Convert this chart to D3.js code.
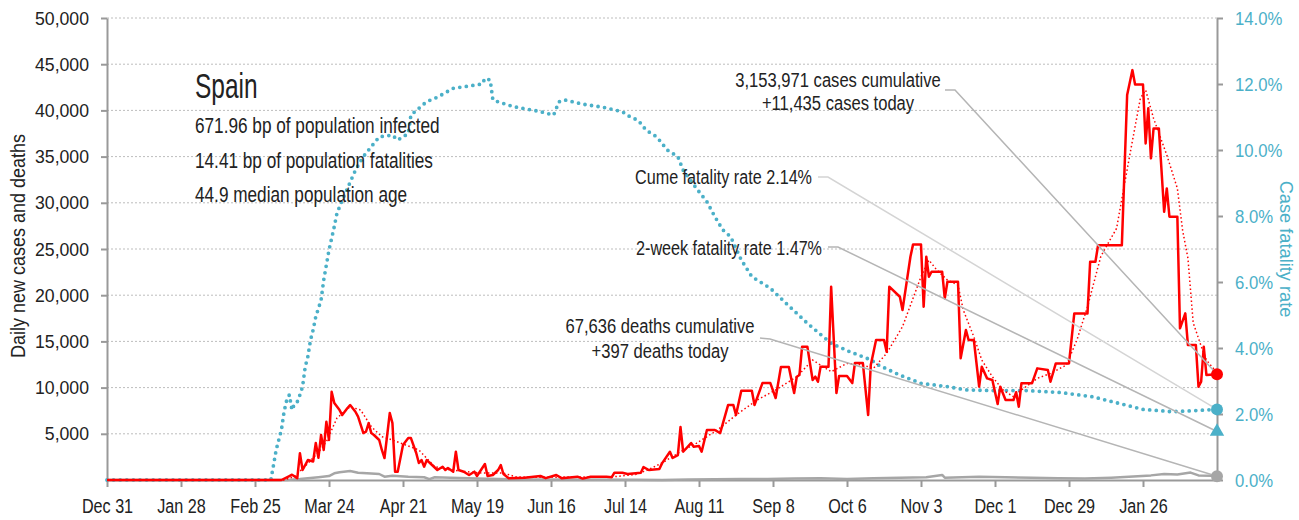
<!DOCTYPE html>
<html>
<head>
<meta charset="utf-8">
<script src="https://cdn.jsdelivr.net/npm/d3@7"></script>
<style>
	body { margin: 0; background: #fff; }
	svg text { font-family: "Liberation Sans", Arial, sans-serif; }
</style>
</head>
<body>
<div id="chart"></div>
<script>
// day 0 = Dec 31, 2019
const startDate = "2019-12-31";
const lastDay = 420;

const tickDates = ["2019-12-31", "2020-01-28", "2020-02-25", "2020-03-24", "2020-04-21", "2020-05-19",
	"2020-06-16", "2020-07-14", "2020-08-11", "2020-09-08", "2020-10-06", "2020-11-03",
	"2020-12-01", "2020-12-29", "2021-01-26"];
const leftTicks = [5000, 10000, 15000, 20000, 25000, 30000, 35000, 40000, 45000, 50000];
const rightTicks = [0, 2, 4, 6, 8, 10, 12, 14];

// [day, daily new cases]
const casesDaily = [[0,0],[66,0],[69,430],[70,570],[72,200],[73,2900],[74,1080],[76,2160],[78,2000],[79,4000],
	[80,2400],[81,4870],[82,3250],[83,6300],[84,4330],[85,9550],[86,8330],[88,7570],[89,7030],[91,7790],
	[92,8110],[94,7390],[95,6850],[97,5080],[98,5230],[99,6160],[100,5080],[101,4870],[103,4330],[104,3250],
	[105,2380],[107,7250],[108,6160],[109,900],[110,900],[112,3790],[114,4540],[115,4540],[117,2920],[118,1840],
	[119,2160],[120,1440],[121,2160],[123,1620],[125,1080],[127,1440],[128,1080],[129,1300],[131,900],[132,3060],
	[133,1080],[135,900],[137,540],[139,900],[140,430],[143,1730],[144,430],[146,540],[148,1080],[149,1620],
	[150,650],[152,200],[158,250],[164,430],[166,200],[170,540],[172,200],[178,360],[180,150],[183,360],
	[189,360],[191,300],[192,790],[195,790],[197,650],[202,790],[203,1400],[205,1080],[209,1190],[210,1800],
	[213,3060],[214,2380],[216,2700],[217,5730],[218,3060],[221,4000],[222,3600],[224,3680],[225,3060],[227,5410],
	[230,5410],[232,5080],[235,8110],[237,8110],[238,7030],[240,9660],[244,9660],[245,8110],[248,10490],[251,10490],
	[253,8870],[255,12230],[258,12230],[260,9410],[261,11180],[262,11360],[263,14420],[265,14420],[267,10820],[268,11180],
	[269,10630],[270,12260],[273,12260],[274,20920],[276,9410],[277,11250],[280,11250],[282,10490],[283,12660],[286,12660],
	[288,7030],[289,12440],[291,15150],[294,15150],[295,13880],[296,20920],[300,19830],[301,18390],[304,24160],[305,25500],
	[308,25500],[309,18750],[310,24160],[311,22000],[312,22540],[316,22540],[317,19660],[318,21460],[322,21460],[323,13170],
	[325,16230],[326,15150],[328,15150],[330,10100],[331,12260],[333,11000],[335,10820],[337,8220],[338,10100],[340,8660],
	[343,8660],[344,9500],[345,7930],[346,10460],[350,10460],[352,12080],[356,11900],[357,10630],[359,12620],[364,12620],
	[366,18030],[371,18030],[372,23620],[374,23620],[375,25400],[384,25400],[386,41660],[388,44360],[389,42810],[392,42810],
	[393,36430],[394,40220],[395,34810],[396,38050],[398,38050],[400,29030],[401,31560],[402,28490],[405,28490],[406,16410],
	[408,18030],[409,14600],[412,14600],[413,10100],[414,10630],[415,14420],[416,11360],[420,11435]];

// [day, 7-day average of cases]
const casesAvg = [[0,0],[67,0],[71,400],[75,1500],[80,3000],[83,4140],[87,6700],[92,7930],[96,7570],[100,5770],
	[104,4690],[108,4330],[113,3790],[118,3250],[124,1440],[130,1080],[136,900],[142,750],[150,750],[155,320],
	[165,300],[180,330],[192,360],[200,600],[204,1010],[210,1840],[217,3060],[223,3970],[231,5410],[238,7030],
	[246,8660],[253,9740],[261,11180],[267,12980],[274,11720],[280,12620],[286,12440],[290,12080],[295,13710],[301,16590],
	[308,22000],[311,23800],[314,22720],[318,21640],[322,21100],[324,18390],[328,15500],[331,12980],[335,11180],[339,9740],
	[343,9010],[346,9740],[352,11000],[357,11540],[363,12440],[367,15150],[371,18750],[376,24160],[377,24700],[382,27230],
	[387,35170],[391,41300],[393,42200],[396,39130],[401,35170],[405,31560],[407,27000],[409,24000],[411,17000],[414,14500],
	[416,12980],[420,11600]];

// [day, daily deaths]
const deathsDaily = [[0,0],[68,0],[73,100],[80,300],[84,430],[86,720],[88,830],[92,970],[95,790],[100,700],
	[103,650],[105,360],[108,470],[114,360],[120,300],[122,100],[124,300],[130,250],[140,150],[160,50],
	[200,20],[210,10],[220,50],[230,80],[240,100],[250,120],[260,150],[270,200],[280,120],[290,200],
	[300,250],[310,300],[316,550],[317,250],[330,350],[340,300],[350,250],[360,200],[370,150],[380,250],
	[390,400],[395,500],[400,650],[405,600],[410,800],[413,500],[418,450],[420,397]];

// [day, cumulative case fatality rate %]
const fatalityRate = [[0,0],[62,0],[63,0.45],[64,0.91],[66,1.52],[67,2.07],[68,2.42],[69,2.58],[70,2.12],[71,2.32],
	[72,2.37],[73,2.58],[74,2.83],[75,3.43],[76,3.74],[77,4.24],[78,4.55],[79,4.95],[81,5.45],[82,6.06],
	[84,6.97],[86,7.68],[87,8.08],[89,8.48],[91,8.84],[94,9.39],[97,9.8],[100,10.1],[103,10.4],[108,10.45],
	[110,10.3],[114,10.5],[115,11.06],[120,11.4],[122,11.5],[125,11.6],[131,11.87],[137,11.94],[142,12.0],[143,12.17],
	[145,12.12],[146,11.52],[148,11.46],[154,11.31],[163,11.18],[169,11.06],[171,11.46],[173,11.52],[180,11.39],[188,11.29],
	[195,11.16],[198,11.0],[201,10.9],[204,10.6],[208,10.4],[212,10.0],[216,9.8],[218,9.39],[223,8.84],[227,8.43],
	[230,7.98],[233,7.58],[236,7.37],[240,6.67],[244,6.16],[251,5.81],[257,5.35],[265,4.75],[274,4.14],[281,3.89],
	[289,3.64],[292,3.48],[300,3.18],[308,2.93],[318,2.83],[325,2.73],[335,2.71],[348,2.71],[361,2.65],[373,2.52],
	[383,2.32],[392,2.14],[403,2.07],[411,2.1],[420,2.14]];

const country = "Spain";
const infoLines = ["671.96 bp of population infected", "14.41 bp of population fatalities", "44.9 median population age"];
const casesCumulative = 3153971;
const casesToday = 11435;
const deathsCumulative = 67636;
const deathsToday = 397;
const cumeRate = 2.14;
const twoWeekRate = 1.47;

const W = 1299, H = 520;
const margin = { top: 18, right: 82, bottom: 40, left: 107 };
const blue = "#4bb0c8";

const parse = d3.timeParse("%Y-%m-%d");
const t0 = parse(startDate);
const toDate = (d) => d3.timeDay.offset(t0, d);

const svg = d3.select("#chart").append("svg")
	.attr("width", W)
	.attr("height", H);

const x = d3.scaleTime()
	.domain([t0, toDate(lastDay)])
	.range([margin.left, W - margin.right]);
const y = d3.scaleLinear()
	.domain([0, 50000])
	.range([H - margin.bottom, margin.top]);
const yR = d3.scaleLinear()
	.domain([0, 14])
	.range([H - margin.bottom, margin.top]);

// the original font is a narrow one, so squeeze text horizontally
let squeeze = (sel, s) => sel.each(function() {
	let t = d3.select(this);
	let tx = +t.attr("x") || 0, ty = +t.attr("y") || 0;
	t.attr("x", 0).attr("y", 0).attr("transform", `translate(${tx},${ty}) scale(${s},1)`);
});

// grid
svg.append("g")
	.selectAll("line")
	.data(leftTicks)
	.enter().append("line")
	.attr("x1", margin.left)
	.attr("x2", W - margin.right)
	.attr("y1", (d) => y(d))
	.attr("y2", (d) => y(d))
	.attr("stroke", "#bdbdbd")
	.attr("stroke-width", 1)
	.attr("stroke-dasharray", "2,2");

// axes
let styleAxis = (g, col, size, s) => {
	g.selectAll(".domain").attr("stroke", "#999").attr("stroke-width", 2);
	g.selectAll(".tick line").attr("stroke", "#999").attr("stroke-width", 2);
	g.selectAll(".tick text").attr("fill", col).style("font-size", size + "px").call(squeeze, s);
};

svg.append("g")
	.attr("transform", `translate(${margin.left},0)`)
	.call(d3.axisLeft(y).tickValues(leftTicks).tickFormat(d3.format(",")).tickSize(6).tickSizeOuter(0).tickPadding(12))
	.call((g) => styleAxis(g, "#222", 19, 0.93));

svg.append("g")
	.attr("transform", `translate(${W - margin.right},0)`)
	.call(d3.axisRight(yR).tickValues(rightTicks).tickFormat((d) => d.toFixed(1) + "%").tickSize(6).tickSizeOuter(0).tickPadding(12))
	.call((g) => styleAxis(g, blue, 19, 0.88));

svg.append("g")
	.attr("transform", `translate(0,${H - margin.bottom})`)
	.call(d3.axisBottom(x).tickValues(tickDates.map(parse)).tickFormat(d3.timeFormat("%b %-d")).tickSize(7).tickSizeOuter(0).tickPadding(11))
	.call((g) => styleAxis(g, "#222", 21, 0.77));

// axis titles
svg.append("text")
	.attr("transform", "translate(25,246) rotate(-90) scale(0.9,1)")
	.attr("text-anchor", "middle")
	.attr("fill", "#222")
	.style("font-size", "20px")
	.text("Daily new cases and deaths");

svg.append("text")
	.attr("transform", "translate(1280,249) rotate(90) scale(0.96,1)")
	.attr("text-anchor", "middle")
	.attr("fill", blue)
	.style("font-size", "19px")
	.text("Case fatality rate");

// series
let line = d3.line().x((d) => x(toDate(d[0]))).y((d) => y(d[1]));
let lineR = d3.line().x((d) => x(toDate(d[0]))).y((d) => yR(d[1]));

svg.append("path")
	.datum(fatalityRate)
	.attr("d", lineR)
	.attr("fill", "none")
	.attr("stroke", blue)
	.attr("stroke-width", 3.8)
	.attr("stroke-linecap", "round")
	.attr("stroke-dasharray", "0,6.6");

svg.append("path")
	.datum(deathsDaily)
	.attr("d", line)
	.attr("fill", "none")
	.attr("stroke", "#a6a6a6")
	.attr("stroke-width", 2.5)
	.attr("stroke-linejoin", "round");

svg.append("path")
	.datum(casesDaily)
	.attr("d", line)
	.attr("fill", "none")
	.attr("stroke", "#ff0000")
	.attr("stroke-width", 2.5)
	.attr("stroke-linejoin", "round");

svg.append("path")
	.datum(casesAvg)
	.attr("d", line)
	.attr("fill", "none")
	.attr("stroke", "#ff0000")
	.attr("stroke-width", 1.5)
	.attr("stroke-dasharray", "1.5,2.5");

// annotations
const xEnd = x(toDate(lastDay));
const leaders = [
	{ from: [945, 90], elbow: [955, 90], to: [xEnd, y(casesToday)], col: "#b5b5b5" },
	{ from: [818, 177], elbow: [828, 177], to: [xEnd, yR(cumeRate)], col: "#d4d4d4" },
	{ from: [828, 247], elbow: [838, 247], to: [xEnd, yR(twoWeekRate)], col: "#b5b5b5" },
	{ from: [760, 338], elbow: [770, 339], to: [xEnd, y(deathsToday)], col: "#b5b5b5" }
];
svg.append("g")
	.selectAll("polyline")
	.data(leaders)
	.enter().append("polyline")
	.attr("points", (d) => [d.from, d.elbow, d.to].map((p) => p.join(",")).join(" "))
	.attr("fill", "none")
	.attr("stroke", (d) => d.col)
	.attr("stroke-width", 1.5);

// end markers
svg.append("circle").attr("cx", xEnd).attr("cy", y(casesToday)).attr("r", 6).attr("fill", "#ff0000");
svg.append("circle").attr("cx", xEnd).attr("cy", yR(cumeRate)).attr("r", 6).attr("fill", blue);
svg.append("circle").attr("cx", xEnd).attr("cy", y(deathsToday)).attr("r", 6).attr("fill", "#a6a6a6");
svg.append("path")
	.attr("d", d3.symbol(d3.symbolTriangle, 90))
	.attr("transform", `translate(${xEnd},${yR(twoWeekRate)})`)
	.attr("fill", blue);

let fmt = d3.format(",");
let addText = (tx, ty, str, anchor, size, s) => {
	svg.append("text")
		.attr("x", tx)
		.attr("y", ty)
		.attr("text-anchor", anchor)
		.attr("fill", "#222")
		.style("font-size", size + "px")
		.text(str)
		.call(squeeze, s);
};

addText(838, 87, fmt(casesCumulative) + " cases cumulative", "middle", 21, 0.79);
addText(838, 110, "+" + fmt(casesToday) + " cases today", "middle", 21, 0.79);
addText(812, 184, "Cume fatality rate " + cumeRate.toFixed(2) + "%", "end", 21, 0.77);
addText(822, 255, "2-week fatality rate " + twoWeekRate.toFixed(2) + "%", "end", 21, 0.77);
addText(660, 333, fmt(deathsCumulative) + " deaths cumulative", "middle", 21, 0.79);
addText(660, 358, "+" + deathsToday + " deaths today", "middle", 21, 0.79);

addText(195, 98, country, "start", 35, 0.7);
infoLines.forEach((s, i) => addText(195, 133 + i * 34.5, s, "start", 21.5, 0.8));
</script>
</body>
</html>
